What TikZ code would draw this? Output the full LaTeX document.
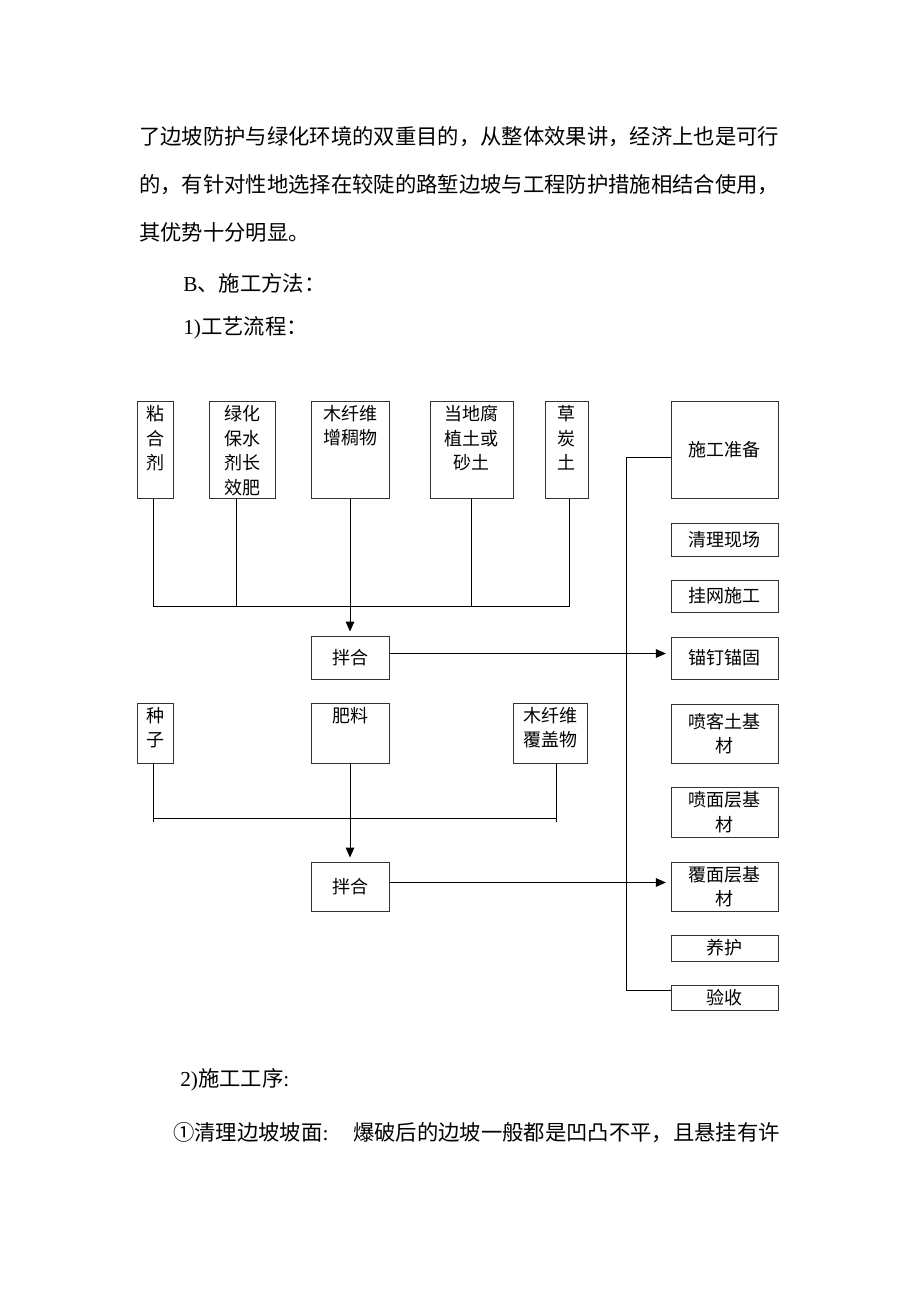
\documentclass[tikz,border=0pt]{standalone}
\usepackage{fontspec}
\setmainfont{Liberation Serif}
\newfontfamily\cjk{Noto Sans CJK SC}
\newcommand\parafont{\cjk\fontsize{16}{20}\selectfont}
\newcommand\cellfont{\cjk\fontsize{13.5}{18.5}\selectfont}
\usetikzlibrary{arrows.meta}
\tikzset{box/.style={draw=black!80,line width=0.75pt,inner sep=0pt,font=\cellfont},
         boxsize/.style 2 args={minimum width=#1*0.75pt,minimum height=#2*0.75pt},
         celltext/.style={anchor=north,align=center,font=\cellfont},
         para/.style={anchor=west,inner sep=0pt,font=\parafont},
         flow/.style={-{Triangle[length=7.5pt,width=6.5pt]},line width=0.75pt},
         wire/.style={line width=0.75pt},
        }

\begin{document}
\begin{tikzpicture}[x=0.75pt,y=-0.75pt]
        \useasboundingbox (0,0) rectangle (920,1302);

        % text above the chart
        \node[para](p1)at(139,137){了边坡防护与绿化环境的双重目的，从整体效果讲，经济上也是可行};
        \node[para](p2)at(139,185){的，有针对性地选择在较陡的路堑边坡与工程防护措施相结合使用，};
        \node[para](p3)at(139,232){其优势十分明显。};
        \node[para](p4)at(183,283){{\rmfamily B}、施工方法：};
        \node[para](p5)at(183,328){{\rmfamily 1)}工艺流程：};

        % materials, first mix
        \node[box,boxsize={36}{97},label={[celltext]north:粘\\合\\剂}](nianhe)at(155,449.5){};
        \node[box,boxsize={66}{97},label={[celltext]north:绿化\\保水\\剂长\\效肥}](baoshui)at(242,449.5){};
        \node[box,boxsize={78}{97},label={[celltext]north:木纤维\\增稠物}](zengchou)at(350,449.5){};
        \node[box,boxsize={83}{97},label={[celltext]north:当地腐\\植土或\\砂土}](fuzhi)at(471.5,449.5){};
        \node[box,boxsize={43}{97},label={[celltext]north:草\\炭\\土}](caotan)at(566.5,449.5){};
        \node[box,boxsize={78}{43}](banhe1)at(350,657.5){拌合};

        \coordinate(bus1)at(348,606);
        \draw[wire]([xshift=-1.5pt]nianhe.south)--([xshift=-1.5pt]nianhe.south |- bus1);
        \draw[wire]([xshift=-4.5pt]baoshui.south)--([xshift=-4.5pt]baoshui.south |- bus1);
        \draw[wire](fuzhi.south)--(fuzhi.south |- bus1);
        \draw[wire]([xshift=2.6pt]caotan.south)--([xshift=2.6pt]caotan.south |- bus1);
        \draw[wire]([xshift=-1.5pt]nianhe.south |- bus1)--([xshift=2.6pt]caotan.south |- bus1);
        \draw[flow,shorten >=3pt](zengchou.south)--(banhe1.north);

        % materials, second mix
        \node[box,boxsize={36}{60},label={[celltext]north:种\\子}](zhongzi)at(155,733){};
        \node[box,boxsize={78}{60},label={[celltext]north:肥料}](feiliao)at(350,733){};
        \node[box,boxsize={74}{60},label={[celltext]north:木纤维\\覆盖物}](fugai)at(550,733){};
        \node[box,boxsize={78}{49}](banhe2)at(350,886.5){拌合};

        \coordinate(bus2)at(348,818);
        \draw[wire]([xshift=-1.5pt]zhongzi.south)--([xshift=-1.5pt,yshift=-3pt]zhongzi.south |- bus2);
        \draw[wire]([xshift=4.5pt]fugai.south)--([xshift=4.5pt,yshift=-3pt]fugai.south |- bus2);
        \draw[wire]([xshift=-1.5pt]zhongzi.south |- bus2)--([xshift=4.5pt]fugai.south |- bus2);
        \draw[flow,shorten >=3pt](feiliao.south)--(banhe2.north);

        % construction steps
        \node[box,boxsize={107}{97}](zhunbei)at(724.5,449.5){施工准备};
        \node[box,boxsize={107}{33}](qingli)at(724.5,539.5){清理现场};
        \node[box,boxsize={107}{32}](guawang)at(724.5,596){挂网施工};
        \node[box,boxsize={107}{42}](maoding)at(724.5,658){锚钉锚固};
        \node[box,boxsize={107}{59},align=center](kentu)at(724.5,733.5){喷客土基\\材};
        \node[box,boxsize={107}{50},align=center](mianceng)at(724.5,812){喷面层基\\材};
        \node[box,boxsize={107}{49},align=center](fumian)at(724.5,886.5){覆面层基\\材};
        \node[box,boxsize={107}{26}](yanghu)at(724.5,948){养护};
        \node[box,boxsize={107}{25}](yanshou)at(724.5,997.5){验收};

        \coordinate(railtop)at(626,457);
        \coordinate(railbot)at(626,990);
        \draw[wire](zhunbei.west |- railtop)--(railtop)--(railbot)--(yanshou.west |- railbot);

        \draw[flow,shorten >=3.5pt]([yshift=3pt]banhe1.east)--([yshift=3pt]banhe1.east -| maoding.west);
        \draw[flow,shorten >=3.5pt]([yshift=3pt]banhe2.east)--([yshift=3pt]banhe2.east -| fumian.west);

        % text below the chart
        \node[para](p6)at(180,1080){{\rmfamily 2)}施工工序{\rmfamily :}};
        \node[para](p7)at(173,1133){\makebox[455pt][s]{①清理边坡坡面{\rmfamily :} 爆破后的边坡一般都是凹凸不平，且悬挂有许}};
\end{tikzpicture}
\end{document}
